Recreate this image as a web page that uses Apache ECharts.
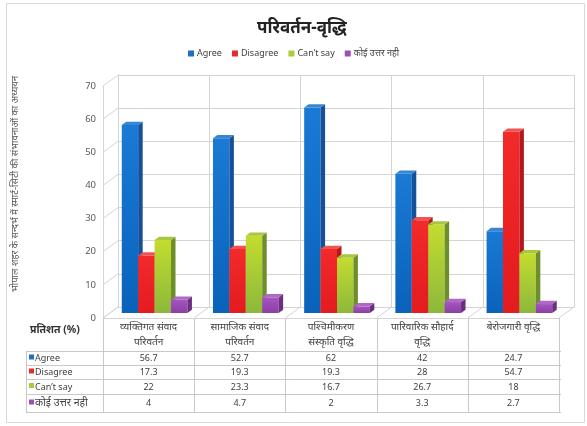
<!DOCTYPE html>
<html>
<head>
<meta charset="utf-8">
<script src="https://cdn.jsdelivr.net/npm/echarts@6/dist/echarts.min.js"></script>
<style>
  html, body { margin: 0; padding: 0; background: #fff; }
  #chart { width: 587px; height: 426px; }
</style>
</head>
<body>
<div id="chart"></div>
<script>
// Survey results: responses per topic (percent)
const categories = [
  'व्यक्तिगत संवाद\nपरिवर्तन',
  'सामाजिक संवाद\nपरिवर्तन',
  'पश्चिमीकरण\nसंस्कृति वृद्धि',
  'पारिवारिक सौहार्द\nवृद्धि',
  'बेरोजगारी वृद्धि'
];
const seriesNames = ['Agree', 'Disagree', 'Can’t say', 'कोई उत्तर नही'];
const agree    = [56.7, 52.7, 62, 42, 24.7];
const disagree = [17.3, 19.3, 19.3, 28, 54.7];
const cantSay  = [22, 23.3, 16.7, 26.7, 18];
const noAnswer = [4, 4.7, 2, 3.3, 2.7];
const valueTicks = [0, 10, 20, 30, 40, 50, 60, 70];

const seriesValues = [agree, disagree, cantSay, noAnswer];

// face colours: front (gradient stops), side, top, legend swatch
const palette = [
  { front: ['#1A7AD4', '#0A62BA'], side: '#17509A', top: '#3686D4', key: '#1F6FC5' },
  { front: ['#F22A2A', '#E41B1F'], side: '#B3191C', top: '#F35252', key: '#E52B2B' },
  { front: ['#C3DC2E', '#8CB83C'], side: '#6E8E2C', top: '#A9C640', key: '#A8CC3A' },
  { front: ['#A455BE', '#8E3FA6'], side: '#6A2F80', top: '#B067C6', key: '#9B4FB8' }
];

// layout of the front plane and the depth offset of the back wall
const gridLeft = 103, gridTop = 86, gridWidth = 456, gridHeight = 232;
const depthX = 15, depthY = -11;
const gridColor = '#D4D4D4';
const FONT = '"Noto Sans", "DejaVu Sans", sans-serif';

function bar3d(seriesIndex) {
  return function (params, api) {
    const cat = api.value(0);
    const val = api.value(1);
    const base = api.coord([cat, 0]);
    const top = api.coord([cat, val]);
    const catW = api.size([1, 0])[0];
    const bw = catW * 0.18;
    // front face sits about half way into the depth of the floor
    const ox = 6, oy = -5;
    const x0 = base[0] + (seriesIndex - 2) * bw + ox;
    const x1 = x0 + bw;
    const yb = base[1] + oy;
    const yt = top[1] + oy;
    const dx = 4.5, dy = -3.3;
    const p = palette[seriesIndex];
    return {
      type: 'group',
      children: [
        {
          type: 'rect',
          shape: { x: x0, y: yt, width: bw, height: yb - yt },
          style: {
            fill: new echarts.graphic.LinearGradient(0, 0, 0, 1, [
              { offset: 0, color: p.front[0] },
              { offset: 1, color: p.front[1] }
            ])
          }
        },
        {
          type: 'polygon',
          shape: { points: [[x1, yb], [x1 + dx, yb + dy], [x1 + dx, yt + dy], [x1, yt]] },
          style: { fill: p.side }
        },
        {
          type: 'polygon',
          shape: { points: [[x0, yt], [x1, yt], [x1 + dx, yt + dy], [x0 + dx, yt + dy]] },
          style: { fill: p.top }
        }
      ]
    };
  };
}

const barSeries = seriesNames.map(function (name, i) {
  return {
    name: name,
    type: 'custom',
    xAxisIndex: 0,
    yAxisIndex: 0,
    itemStyle: { color: palette[i].key },
    renderItem: bar3d(i),
    encode: { x: 0, y: 1 },
    data: seriesValues[i].map(function (v, c) { return [c, v]; }),
    z: 5
  };
});

// diagonal lines on the left side wall, one per value tick
const wallSeries = {
  type: 'custom',
  xAxisIndex: 0,
  yAxisIndex: 0,
  silent: true,
  renderItem: function (params, api) {
    const cs = params.coordSys;
    const y = api.coord([0, api.value(0)])[1];
    return {
      type: 'line',
      shape: { x1: cs.x, y1: y, x2: cs.x + depthX, y2: y + depthY },
      style: { stroke: gridColor, lineWidth: 1 }
    };
  },
  encode: { y: 0 },
  data: valueTicks.map(function (v) { return [v]; }),
  z: 1
};

// diagonal lines across the floor at category boundaries
const floorSeries = {
  type: 'custom',
  xAxisIndex: 0,
  yAxisIndex: 0,
  silent: true,
  renderItem: function (params, api) {
    const cs = params.coordSys;
    const k = api.value(0);
    const x = cs.x + k * cs.width / categories.length;
    const y = cs.y + cs.height;
    return {
      type: 'line',
      shape: { x1: x, y1: y, x2: x + depthX, y2: y + depthY },
      style: { stroke: gridColor, lineWidth: 1 }
    };
  },
  data: categories.map(function (c, i) { return [i]; }).concat([[categories.length]]),
  z: 1
};

// data table under the plot
function buildTable() {
  const els = [];
  const colW = gridWidth / categories.length;
  const tableLeft = 26;
  const tableRight = gridLeft + gridWidth + 2;
  const headerTop = gridTop + gridHeight;
  const rowLines = [351, 365, 379, 394, 412];
  const lineStyle = { stroke: '#C8C8C8', lineWidth: 1 };

  rowLines.forEach(function (y) {
    els.push({ type: 'line', shape: { x1: tableLeft, y1: y + 0.5, x2: tableRight, y2: y + 0.5 }, style: lineStyle, silent: true });
  });
  els.push({ type: 'line', shape: { x1: tableLeft + 0.5, y1: rowLines[0], x2: tableLeft + 0.5, y2: rowLines[4] }, style: lineStyle, silent: true });
  for (let k = 0; k <= categories.length; k++) {
    const x = Math.round(gridLeft + k * colW) + 0.5;
    els.push({ type: 'line', shape: { x1: x, y1: headerTop, x2: x, y2: rowLines[4] }, style: lineStyle, silent: true });
  }

  els.push({
    type: 'text', left: 30, top: 325,
    style: { text: 'प्रतिशत (%)', font: 'bold 10.5px ' + FONT, fill: '#333' }
  });

  categories.forEach(function (c, k) {
    els.push({
      type: 'text',
      x: gridLeft + (k + 0.5) * colW, y: 320,
      style: { text: c, font: '10px ' + FONT, fill: '#404040', align: 'center', verticalAlign: 'top', lineHeight: 15 }
    });
  });

  seriesNames.forEach(function (name, r) {
    const yc = (rowLines[r] + rowLines[r + 1]) / 2 + 0.5;
    els.push({ type: 'rect', shape: { x: 29, y: yc - 4, width: 5, height: 5 }, style: { fill: palette[r].key } });
    els.push({
      type: 'text', x: 35, y: yc,
      style: { text: name, font: (r === 3 ? '10.5px ' : '9px ') + FONT, fill: '#404040', verticalAlign: 'middle' }
    });
    seriesValues[r].forEach(function (v, k) {
      els.push({
        type: 'text', x: gridLeft + (k + 0.5) * colW, y: yc,
        style: { text: String(v), font: '9px ' + FONT, fill: '#404040', align: 'center', verticalAlign: 'middle' }
      });
    });
  });
  return els;
}

const chart = echarts.init(document.getElementById('chart'), null, { renderer: 'canvas' });

chart.setOption({
  animation: false,
  backgroundColor: '#fff',
  title: {
    text: 'परिवर्तन-वृद्धि',
    left: 252,
    top: 15,
    textStyle: { fontSize: 17, fontWeight: 'bold', color: '#222', fontFamily: FONT }
  },
  legend: {
    data: seriesNames,
    top: 44,
    left: 'center',
    itemWidth: 6,
    itemHeight: 6,
    itemGap: 10,
    icon: 'rect',
    textStyle: { fontSize: 9, color: '#404040', fontFamily: FONT, padding: [0, 0, 0, -2] }
  },
  grid: [
    { left: gridLeft, top: gridTop, width: gridWidth, height: gridHeight },
    { left: gridLeft + depthX, top: gridTop + depthY, width: gridWidth, height: gridHeight }
  ],
  xAxis: [
    {
      type: 'category', gridIndex: 0, data: categories,
      axisLine: { show: true, lineStyle: { color: gridColor } },
      axisTick: { show: false }, axisLabel: { show: false }, splitLine: { show: false }
    },
    {
      type: 'category', gridIndex: 1, data: categories,
      axisLine: { show: true, lineStyle: { color: gridColor } },
      axisTick: { show: false }, axisLabel: { show: false },
      splitLine: { show: true, interval: 0, lineStyle: { color: gridColor } }
    }
  ],
  yAxis: [
    {
      type: 'value', gridIndex: 0, min: 0, max: 70, interval: 10,
      axisLine: { show: true, lineStyle: { color: gridColor } },
      axisTick: { show: false },
      axisLabel: { color: '#595959', fontSize: 9.5, fontFamily: FONT, margin: 7 },
      splitLine: { show: false }
    },
    {
      type: 'value', gridIndex: 1, min: 0, max: 70, interval: 10,
      axisLine: { show: true, lineStyle: { color: gridColor } },
      axisTick: { show: false }, axisLabel: { show: false },
      splitLine: { show: true, lineStyle: { color: gridColor } }
    }
  ],
  series: [wallSeries, floorSeries].concat(barSeries),
  graphic: [
    {
      type: 'rect', silent: true, z: -10,
      shape: { x: 6.5, y: 3.5, width: 578, height: 419 },
      style: { fill: 'none', stroke: '#D9D9D9', lineWidth: 1 }
    },
    {
      type: 'text', x: 15, y: 184, rotation: Math.PI / 2,
      style: {
        text: 'भोपाल शहर के सन्दर्भ में स्मार्ट-सिटी की संभावनाओं का अध्ययन',
        font: '9.5px ' + FONT, fill: '#595959', align: 'center', verticalAlign: 'middle'
      }
    }
  ].concat(buildTable())
});
</script>
</body>
</html>
